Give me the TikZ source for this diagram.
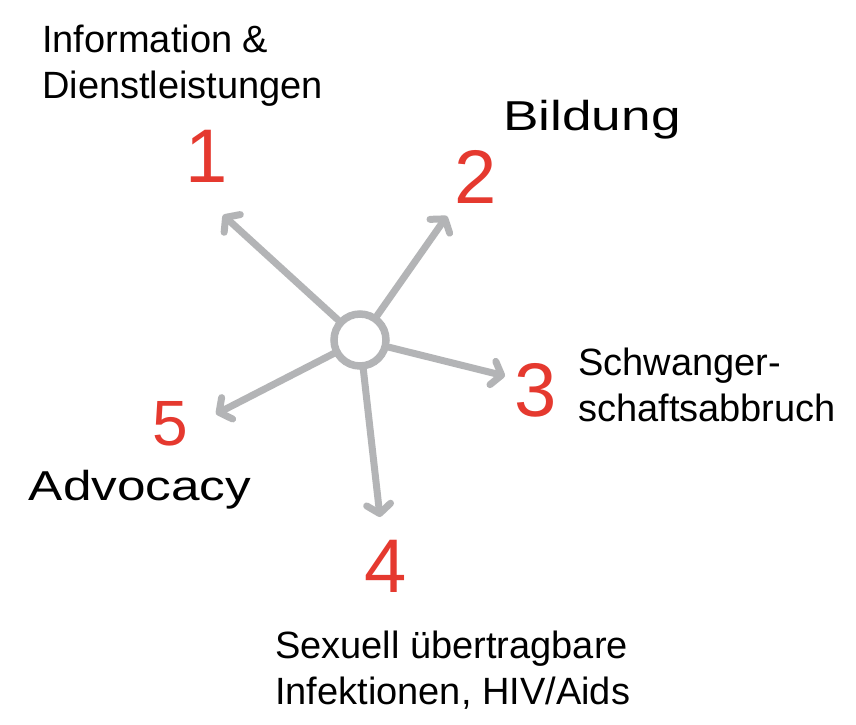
\documentclass[tikz,border=0pt]{standalone}
\usepackage{fontspec}
\setmainfont{Liberation Sans}
\usetikzlibrary{arrows.meta}
\definecolor{arrgray}{HTML}{B3B4B6}
\definecolor{numred}{HTML}{E5392F}
\begin{document}
\begin{tikzpicture}[x=1pt,y=-1pt,
  arr/.style={draw=arrgray,line width=7pt,line cap=round,
    -{Straight Barb[length=9pt,width=24pt,line width=7pt,round]}},
  num/.style={text=numred,font=\fontsize{76}{76}\selectfont,inner sep=0pt},
  lbl/.style={text=black,font=\fontsize{38}{46}\selectfont,inner sep=0pt,align=left}]
\useasboundingbox[fill=white] (0,0) rectangle (856,724);
\node[draw=arrgray,line width=7.5pt,circle,minimum size=52pt,inner sep=0pt] (c) at (360,340) {};
\coordinate (t1) at (223,215);
\coordinate (t2) at (447,216);
\coordinate (t3) at (505,376);
\coordinate (t4) at (380,517);
\coordinate (t5) at (216,414);
\foreach \i in {1,...,5} {\draw[arr] (c) -- (t\i);}
\node[num] (n1) at (207,156) {1};
\node[num] (n2) at (476,177) {2};
\node[num] (n3) at (536,390) {3};
\node[num,font=\fontsize{64}{64}\selectfont] (n5) at (170,424) {5};
\node[num] (n4) at (386,566) {4};
\node[lbl,anchor=west] (l1) at (42,66) {Information \&\\Dienstleistungen};
\node[lbl] (l2) at (592,120) {\scalebox{1.4}[1.1]{Bildung}};
\node[lbl,anchor=west] (l3) at (578,385) {Schwanger-\\schaftsabbruch};
\node[lbl] (l5) at (140,490) {\scalebox{1.35}[1.1]{Advocacy}};
\node[lbl,anchor=west] (l4) at (275,670) {Sexuell übertragbare\\Infektionen, HIV/Aids};
\end{tikzpicture}
\end{document}
